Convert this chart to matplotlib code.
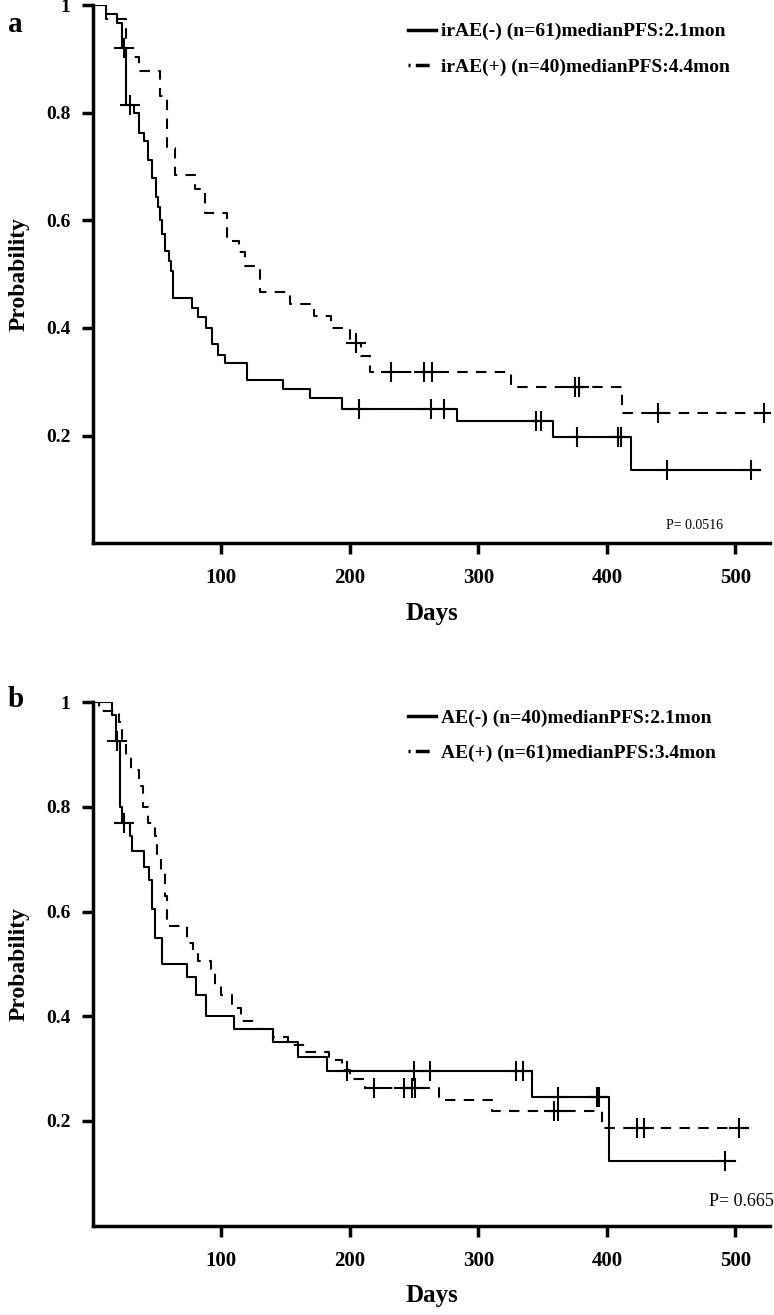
import numpy as np
import matplotlib.pyplot as plt

# panel a : irAE(-) solid, irAE(+) dashed
a_neg_t = [10, 19, 23, 25.5, 32, 36, 40, 43, 46, 49, 51, 52.5, 54, 56, 59, 61, 62.5,
           77, 82, 88, 93, 97, 103, 120, 148, 169, 194, 283, 358, 419]
a_neg_s = [0.984, 0.967, 0.92, 0.815, 0.80, 0.762, 0.747, 0.712, 0.678, 0.644, 0.625,
           0.60, 0.575, 0.544, 0.525, 0.505, 0.456, 0.438, 0.42, 0.40, 0.37, 0.35,
           0.335, 0.303, 0.286, 0.269, 0.25, 0.227, 0.197, 0.136]
a_neg_cens = [24, 29, 207, 263, 273, 345, 349, 377, 409, 411, 447, 512]
a_neg_end = 519

a_pos_t = [10, 26, 35.7, 52.5, 57.7, 64.2, 79.8, 87.6, 104.4, 113.5, 118.7, 130.4,
           153.7, 172, 185, 200, 209, 216, 325, 412]
a_pos_s = [0.975, 0.903, 0.878, 0.831, 0.734, 0.684, 0.659, 0.614, 0.5625, 0.541,
           0.516, 0.466, 0.444, 0.422, 0.40, 0.372, 0.347, 0.318, 0.29, 0.2425]
a_pos_cens = [205, 232, 258, 264, 375, 378, 440, 522]
a_pos_end = 522

# panel b : AE(-) solid, AE(+) dashed
b_neg_t = [15, 18, 21, 22.5, 29, 30.5, 39.6, 43.5, 46.1, 48.6, 53.8, 73.3, 80, 88,
           110, 140, 160, 182, 342, 402]
b_neg_s = [0.975, 0.925, 0.80, 0.77, 0.745, 0.715, 0.685, 0.66, 0.605, 0.55, 0.50,
           0.475, 0.44, 0.40, 0.375, 0.35, 0.323, 0.295, 0.2465, 0.124]
b_neg_cens = [18.8, 24, 198, 250, 262, 329, 335, 362, 392, 393.5, 492]
b_neg_end = 500

b_pos_t = [4.6, 20, 23, 26, 30, 36, 39, 43, 48, 50, 53, 56, 58, 73.3, 78, 82, 92, 95,
           100, 108, 115, 125, 140, 152, 165.4, 184, 194, 200, 212, 269, 310.6, 396]
b_pos_s = [0.983, 0.963, 0.93, 0.90, 0.87, 0.84, 0.80, 0.77, 0.745, 0.71, 0.675, 0.63,
           0.572, 0.54, 0.52, 0.505, 0.49, 0.46, 0.44, 0.415, 0.39, 0.375, 0.36, 0.345,
           0.331, 0.316, 0.298, 0.281, 0.262, 0.24, 0.218, 0.186]
b_pos_cens = [218.5, 242, 248.6, 251, 358.6, 361.7, 423.4, 429, 502.6]
b_pos_end = 508

labels_a = ['irAE(-) (n=61)medianPFS:2.1mon', 'irAE(+) (n=40)medianPFS:4.4mon']
labels_b = ['AE(-) (n=40)medianPFS:2.1mon', 'AE(+) (n=61)medianPFS:3.4mon']
p_a = 'P= 0.0516'
p_b = 'P= 0.665'

yticks = [0.2, 0.4, 0.6, 0.8, 1.0]
ytick_labels = ['0.2', '0.4', '0.6', '0.8', '1']
xticks = [100, 200, 300, 400, 500]

plt.rcParams['font.family'] = ['Liberation Serif', 'DejaVu Serif']
DASH = (0, (5, 4))


def km(ax, t, s, cens, end, ls):
    t = np.asarray(t, float)
    s = np.asarray(s, float)
    x = np.r_[0, t, end]
    y = np.r_[1.0, s, s[-1]]
    ax.step(x, y, where='post', color='black', lw=1.5, linestyle=ls)
    # censor marks sit on the step level at that time
    c = np.asarray(cens, float)
    idx = np.searchsorted(t, c, side='right')
    cy = np.r_[1.0, s][idx]
    ax.plot(c, cy, '+', color='black', ms=14, mew=1.5)


def panel(ax, neg, pos, labels, ptxt, pfs, pxy, leg_y):
    km(ax, *neg, ls='-')
    km(ax, *pos, ls=DASH)
    ax.set_xlim(0, 527)
    ax.set_ylim(0, 1)
    for side in ['top', 'right']:
        ax.spines[side].set_visible(False)
    for side in ['left', 'bottom']:
        ax.spines[side].set_linewidth(2.5)
    ax.set_yticks(yticks)
    ax.set_yticklabels(ytick_labels, fontweight='bold', fontsize=14)
    ax.set_xticks(xticks)
    ax.set_xticklabels([str(v) for v in xticks], fontweight='bold', fontsize=15)
    ax.tick_params(axis='both', length=8, width=2.5, direction='out')
    ax.tick_params(axis='y', pad=8)
    ax.tick_params(axis='x', pad=10)
    ax.set_ylabel('Probability', fontweight='bold', fontsize=17, labelpad=12)
    ax.set_xlabel('Days', fontweight='bold', fontsize=18, labelpad=10)
    h1, = ax.plot([], [], color='black', lw=2.5)
    h2, = ax.plot([], [], color='black', lw=2.5, linestyle=(0, (0.6, 1.5, 4, 10)))
    ax.legend([h1, h2], labels, loc='upper left', bbox_to_anchor=(0.44, leg_y),
              frameon=False, handlelength=1.4, handletextpad=0.3, labelspacing=0.9,
              prop={'weight': 'bold', 'size': 14})
    ax.text(pxy[0], pxy[1], ptxt, transform=ax.transAxes, ha='right', va='bottom',
            fontsize=pfs)


fig = plt.figure(figsize=(7.74, 13.15), dpi=100)
ax_a = fig.add_axes([0.120, 0.587, 0.875, 0.409])
ax_b = fig.add_axes([0.120, 0.068, 0.875, 0.398])

panel(ax_a, (a_neg_t, a_neg_s, a_neg_cens, a_neg_end),
      (a_pos_t, a_pos_s, a_pos_cens, a_pos_end), labels_a, p_a, 10, (0.93, 0.02), 1.0)
panel(ax_b, (b_neg_t, b_neg_s, b_neg_cens, b_neg_end),
      (b_pos_t, b_pos_s, b_pos_cens, b_pos_end), labels_b, p_b, 13, (1.005, 0.03), 1.02)

fig.text(0.010, 0.992, 'a', fontsize=21, fontweight='bold', va='top')
fig.text(0.010, 0.478, 'b', fontsize=21, fontweight='bold', va='top')

fig.savefig('out.png', dpi=100)
